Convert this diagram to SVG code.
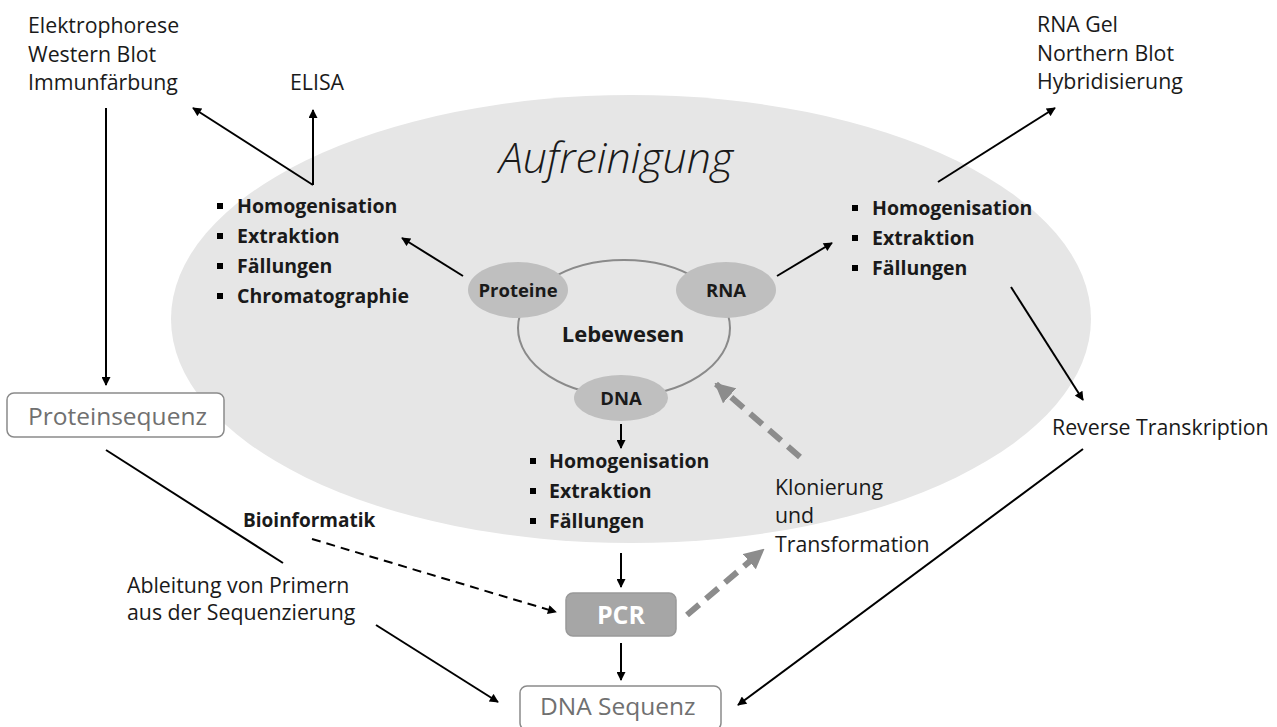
<svg xmlns="http://www.w3.org/2000/svg" width="1277" height="727" viewBox="0 0 1277 727">
  <defs>
    <marker id="ah" viewBox="0 0 10 10" refX="9" refY="5" markerWidth="11" markerHeight="9" markerUnits="userSpaceOnUse" orient="auto">
      <path d="M0,0 L10,5 L0,10 z" fill="#000"/>
    </marker>
    <marker id="ahGray" viewBox="0 0 10 10" refX="9" refY="5" markerWidth="20" markerHeight="20" markerUnits="userSpaceOnUse" orient="auto">
      <path d="M0,0 L10,5 L0,10 z" fill="#8c8c8c"/>
    </marker>
    <style>
      text { font-family: "Open Sans", "Liberation Sans", sans-serif; fill: #1a1a1a; }
      .lbl { font-size: 21.3px; }
      .bold { font-weight: bold; font-size: 19.5px; }
      .node { font-weight: bold; font-size: 18.5px; text-anchor: middle; }
      .box { fill: #fff; stroke: #8a8a8a; stroke-width: 1.5; }
      .boxtxt { font-size: 24.5px; fill: #707070; }
      .conn { stroke: #000; stroke-width: 2; fill: none; }
      .arrow { stroke: #000; stroke-width: 2; fill: none; marker-end: url(#ah); }
      .thick { stroke: #8c8c8c; stroke-width: 6; fill: none; stroke-dasharray: 16 9; marker-end: url(#ahGray); }
      .bullet { fill: #000; }
    </style>
  </defs>

  <!-- background area: purification -->
  <g id="aufreinigung">
    <ellipse cx="631" cy="319" rx="460" ry="224" fill="#e6e6e6"/>
    <text x="499" y="173" font-size="43" font-style="italic" font-weight="300">Aufreinigung</text>
  </g>

  <!-- organism cycle -->
  <g id="lebewesen">
    <ellipse cx="624" cy="328" rx="106" ry="68" fill="none" stroke="#8a8a8a" stroke-width="2"/>
    <text x="623" y="342" font-size="22" font-weight="bold" text-anchor="middle">Lebewesen</text>
  </g>
  <g id="proteine">
    <ellipse cx="518" cy="290" rx="50" ry="28" fill="#bfbfbf"/>
    <text class="node" x="518" y="297">Proteine</text>
  </g>
  <g id="rna">
    <ellipse cx="726" cy="290" rx="50" ry="28" fill="#bfbfbf"/>
    <text class="node" x="726" y="297">RNA</text>
  </g>
  <g id="dna">
    <ellipse cx="621" cy="398" rx="47" ry="23" fill="#bfbfbf"/>
    <text class="node" x="621" y="405">DNA</text>
  </g>

  <!-- method lists -->
  <g id="liste-proteine">
    <rect class="bullet" x="217" y="203" width="6" height="6"/>
    <rect class="bullet" x="217" y="233" width="6" height="6"/>
    <rect class="bullet" x="217" y="263" width="6" height="6"/>
    <rect class="bullet" x="217" y="293" width="6" height="6"/>
    <text class="bold" x="237" y="213">Homogenisation</text>
    <text class="bold" x="237" y="243">Extraktion</text>
    <text class="bold" x="237" y="273">Fällungen</text>
    <text class="bold" x="237" y="303">Chromatographie</text>
  </g>
  <g id="liste-rna">
    <rect class="bullet" x="852" y="205" width="6" height="6"/>
    <rect class="bullet" x="852" y="235" width="6" height="6"/>
    <rect class="bullet" x="852" y="265" width="6" height="6"/>
    <text class="bold" x="872" y="215">Homogenisation</text>
    <text class="bold" x="872" y="245">Extraktion</text>
    <text class="bold" x="872" y="275">Fällungen</text>
  </g>
  <g id="liste-dna">
    <rect class="bullet" x="530" y="458" width="6" height="6"/>
    <rect class="bullet" x="530" y="488" width="6" height="6"/>
    <rect class="bullet" x="530" y="518" width="6" height="6"/>
    <text class="bold" x="549" y="468">Homogenisation</text>
    <text class="bold" x="549" y="498">Extraktion</text>
    <text class="bold" x="549" y="528">Fällungen</text>
  </g>

  <!-- analysis labels -->
  <g id="protein-analytik">
    <text class="lbl" x="28" y="33">Elektrophorese</text>
    <text class="lbl" x="28" y="62">Western Blot</text>
    <text class="lbl" x="28" y="90">Immunfärbung</text>
  </g>
  <g id="elisa">
    <text class="lbl" x="290" y="90">ELISA</text>
  </g>
  <g id="rna-analytik">
    <text class="lbl" x="1037" y="32">RNA Gel</text>
    <text class="lbl" x="1037" y="61">Northern Blot</text>
    <text class="lbl" x="1037" y="89">Hybridisierung</text>
  </g>
  <g id="reverse-transkription">
    <text class="lbl" x="1052" y="435">Reverse Transkription</text>
  </g>
  <g id="klonierung">
    <text class="lbl" x="775" y="495">Klonierung</text>
    <text class="lbl" x="775" y="523">und</text>
    <text class="lbl" x="775" y="552">Transformation</text>
  </g>
  <g id="bioinformatik">
    <text x="243" y="527" font-size="19" font-weight="bold">Bioinformatik</text>
  </g>
  <g id="primer">
    <text class="lbl" x="127" y="593" font-size="22">Ableitung von Primern</text>
    <text class="lbl" x="127" y="620" font-size="22">aus der Sequenzierung</text>
  </g>

  <!-- boxes -->
  <g id="proteinsequenz">
    <rect class="box" x="7" y="393" width="217" height="44" rx="7"/>
    <text class="boxtxt" x="28" y="425">Proteinsequenz</text>
  </g>
  <g id="pcr">
    <rect x="566" y="593" width="110" height="43" rx="7" fill="#a6a6a6" stroke="#999" stroke-width="1.5"/>
    <text x="621" y="624" font-size="25" font-weight="bold" text-anchor="middle" style="fill:#fff">PCR</text>
  </g>
  <g id="dna-sequenz">
    <rect class="box" x="520" y="686" width="201" height="44" rx="7"/>
    <text class="boxtxt" x="540" y="715">DNA Sequenz</text>
  </g>

  <!-- connectors -->
  <g id="connectors">
    <line class="arrow" x1="313" y1="185" x2="313" y2="110"/>
    <line class="arrow" x1="313" y1="185" x2="193" y2="108"/>
    <line class="arrow" x1="106" y1="108" x2="106" y2="385"/>
    <line class="arrow" x1="463" y1="276" x2="402" y2="238"/>
    <line class="arrow" x1="777" y1="276" x2="832" y2="243"/>
    <line class="arrow" x1="938" y1="182" x2="1055" y2="108"/>
    <line class="arrow" x1="1011" y1="287" x2="1083" y2="400"/>
    <line class="arrow" x1="621" y1="424" x2="621" y2="448"/>
    <line class="arrow" x1="621" y1="553" x2="621" y2="587"/>
    <line class="arrow" x1="621" y1="643" x2="621" y2="680"/>
    <line class="conn" x1="106" y1="450" x2="283" y2="563"/>
    <line class="arrow" x1="376" y1="625" x2="498" y2="702"/>
    <line class="arrow" x1="1083" y1="449" x2="738" y2="705"/>
    <line class="arrow" x1="312" y1="539" x2="556" y2="612" stroke-dasharray="9 6"/>
    <line class="thick" x1="687" y1="615" x2="763" y2="550"/>
    <line class="thick" x1="800" y1="457" x2="716" y2="384"/>
  </g>
</svg>
